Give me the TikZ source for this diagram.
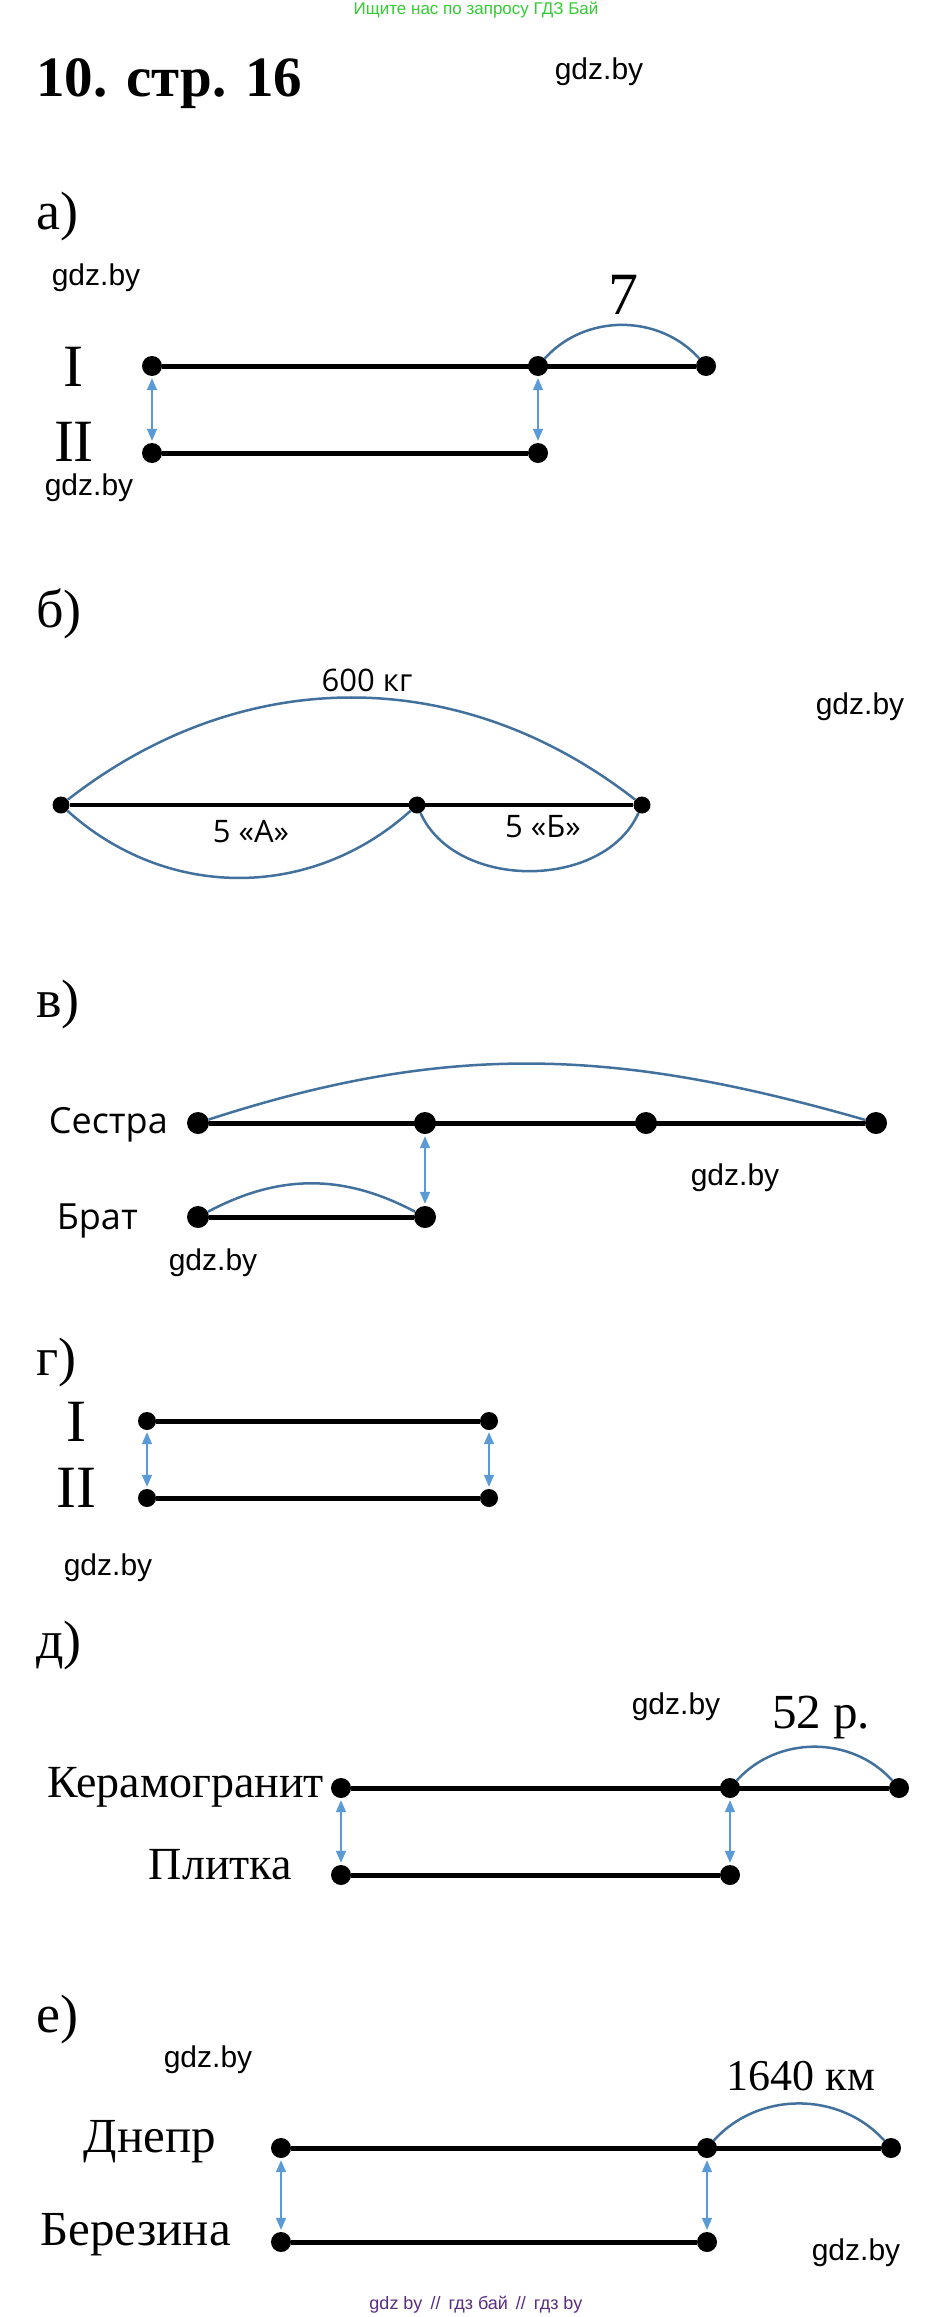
\documentclass[tikz,border=0pt]{standalone}
\usepackage{fontspec}
\setmainfont{Liberation Serif}
\newfontfamily\sansf{Liberation Sans}
\newfontfamily\opens{Open Sans}
\usetikzlibrary{arrows.meta}
\definecolor{arcblue}{HTML}{41719C}
\definecolor{arrblue}{HTML}{5B9BD5}
\definecolor{topgreen}{HTML}{33CC33}
\definecolor{botpurple}{HTML}{5A2D82}
\newcommand{\fs}[1]{\fontsize{#1}{#1}\selectfont}
\tikzset{
  dot/.style={circle,fill=black,inner sep=0pt,minimum size=20pt},
  seg/.style={draw=black,line width=5pt},
  arcb/.style={draw=arcblue,line width=2.5pt},
  barrow/.style={draw=arrblue,line width=1.5pt,{Triangle[length=12pt,width=10pt]}-{Triangle[length=12pt,width=10pt]},shorten <=2pt,shorten >=2pt},
  wm/.style={inner sep=0pt,font=\sansf\fs{30}},
  part/.style={inner sep=0pt,anchor=base west,font=\fs{54}},
  roman/.style={inner sep=0pt,font=\fs{60}},
  lab/.style={inner sep=0pt,anchor=base east},
}
\begin{document}
\begin{tikzpicture}[x=1pt,y=1pt]
\useasboundingbox (0,0) rectangle (949,-2317);
\fill[white] (0,0) rectangle (949,-2317);

% header
\node[inner sep=0pt,text=topgreen,font=\sansf\fs{17}] (top) at (476,-10) {Ищите нас по запросу ГДЗ Бай};
\node[inner sep=0pt,anchor=base west,font=\bfseries\fs{57}] (title) at (36,-97) {10. стр. 16};
\node[wm] (w0) at (599,-72) {gdz.by};

% a)
\node[part] (pa) at (36,-230) {а)};
\node[wm] (w1) at (96,-278) {gdz.by};
\node[roman] (ra1) at (73,-367) {I};
\node[roman] (ra2) at (74,-442) {II};
\node[dot] (a1) at (152,-366) {};
\node[dot] (a2) at (538,-366) {};
\node[dot] (a3) at (706,-366) {};
\node[dot] (a4) at (152,-453) {};
\node[dot] (a5) at (538,-453) {};
\draw[seg] (a1) -- (a3);
\draw[seg] (a4) -- (a5);
\draw[arcb] (a2) to[out=48,in=132] (a3);
\node[inner sep=0pt,font=\fs{60}] (n7) at (623,-295) {7};
\draw[barrow] (a1) -- (a4);
\draw[barrow] (a2) -- (a5);
\node[wm] (w2) at (89,-488) {gdz.by};

% б)
\node[part] (pb) at (36,-627) {б)};
\node[inner sep=0pt,font=\opens\fs{31}] (t600) at (367,-680) {600 кг};
\node[wm] (w3) at (860,-707) {gdz.by};
\node[dot,minimum size=17pt] (b1) at (61,-805) {};
\node[dot,minimum size=17pt] (b2) at (417,-805) {};
\node[dot,minimum size=17pt] (b3) at (642,-805) {};
\draw[seg,line width=4.5pt] (b1) -- (b3);
\draw[arcb] (b1) to[out=38,in=142] (b3);
\draw[arcb] (b1) to[out=-42,in=-138] (b2);
\draw[arcb] (b2) to[out=-66,in=-114] (b3);
\node[inner sep=0pt,font=\opens\fs{31}] (t5a) at (251,-832) {5 «А»};
\node[inner sep=0pt,font=\opens\fs{31}] (t5b) at (543,-827) {5 «Б»};

% в)
\node[part] (pv) at (36,-1017) {в)};
\node[lab,font=\opens\fs{36}] (ts) at (168,-1133) {Сестра};
\node[dot,minimum size=22pt] (s1) at (198,-1123) {};
\node[dot,minimum size=22pt] (s2) at (425,-1123) {};
\node[dot,minimum size=22pt] (s3) at (646,-1123) {};
\node[dot,minimum size=22pt] (s4) at (876,-1123) {};
\draw[seg] (s1) -- (s4);
\draw[arcb] (s1) to[out=18,in=164] (s4);
\node[lab,font=\opens\fs{36}] (tb) at (138,-1229) {Брат};
\node[dot,minimum size=22pt] (r1) at (198,-1217) {};
\node[dot,minimum size=22pt] (r2) at (425,-1217) {};
\draw[seg] (r1) -- (r2);
\draw[arcb] (r1) to[out=28,in=152] (r2);
\draw[barrow] (s2) -- (r2);
\node[wm] (w4) at (735,-1178) {gdz.by};
\node[wm] (w5) at (213,-1263) {gdz.by};

% г)
\node[part] (pg) at (36,-1375) {г)};
\node[roman] (rg1) at (76,-1422) {I};
\node[roman] (rg2) at (76,-1488) {II};
\node[dot,minimum size=18pt] (g1) at (147,-1421) {};
\node[dot,minimum size=18pt] (g2) at (489,-1421) {};
\node[dot,minimum size=18pt] (g3) at (147,-1498) {};
\node[dot,minimum size=18pt] (g4) at (489,-1498) {};
\draw[seg] (g1) -- (g2);
\draw[seg] (g3) -- (g4);
\draw[barrow] (g1) -- (g3);
\draw[barrow] (g2) -- (g4);
\node[wm] (w6) at (108,-1568) {gdz.by};

% д)
\node[part] (pd) at (36,-1658) {д)};
\node[wm] (w7) at (676,-1707) {gdz.by};
\node[inner sep=0pt,anchor=base,font=\fs{49}] (t52) at (821,-1728) {52 р.};
\node[lab,font=\fs{46}] (tk) at (324,-1797) {Керамогранит};
\node[dot] (k1) at (341,-1788) {};
\node[dot] (k2) at (730,-1788) {};
\node[dot] (k3) at (899,-1788) {};
\draw[seg] (k1) -- (k3);
\draw[arcb] (k2) to[out=48,in=132] (k3);
\node[lab,font=\fs{46}] (tp) at (292,-1879) {Плитка};
\node[dot] (p1) at (341,-1875) {};
\node[dot] (p2) at (730,-1875) {};
\draw[seg] (p1) -- (p2);
\draw[barrow] (k1) -- (p1);
\draw[barrow] (k2) -- (p2);

% е)
\node[part] (pe) at (36,-2032) {е)};
\node[wm] (w8) at (208,-2060) {gdz.by};
\node[inner sep=0pt,anchor=base,font=\fs{44}] (t1640) at (801,-2090) {1640 км};
\node[lab,font=\fs{49}] (tdn) at (216,-2152) {Днепр};
\node[dot] (d1) at (281,-2148) {};
\node[dot] (d2) at (707,-2148) {};
\node[dot] (d3) at (891,-2148) {};
\draw[seg] (d1) -- (d3);
\draw[arcb] (d2) to[out=48,in=132] (d3);
\node[lab,font=\fs{49}] (tbz) at (231,-2245) {Березина};
\node[dot] (z1) at (281,-2242) {};
\node[dot] (z2) at (707,-2242) {};
\draw[seg] (z1) -- (z2);
\draw[barrow] (d1) -- (z1);
\draw[barrow] (d2) -- (z2);
\node[wm] (w9) at (856,-2253) {gdz.by};
\node[inner sep=0pt,text=botpurple,font=\sansf\fs{18}] (bot) at (476,-2305) {gdz by \,//\, гдз бай \,//\, гдз by};
\end{tikzpicture}
\end{document}
